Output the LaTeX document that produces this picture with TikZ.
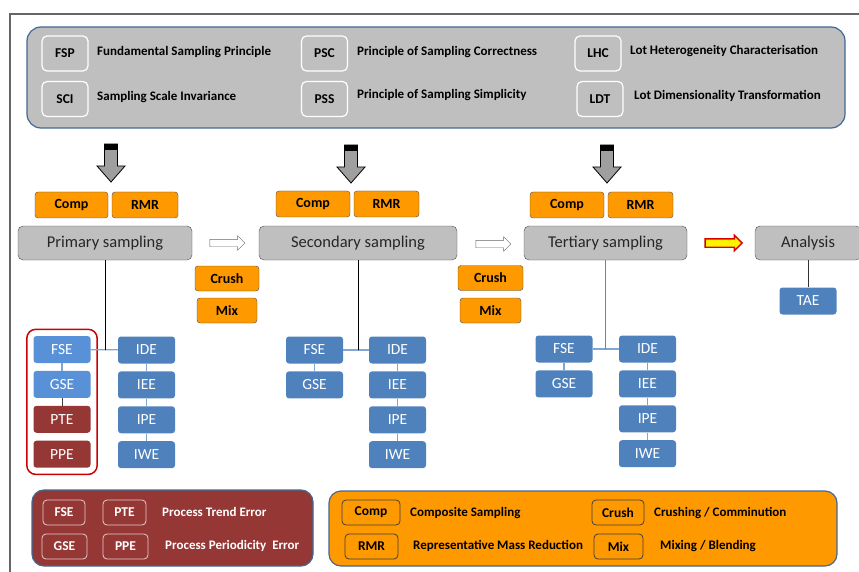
\documentclass[tikz,border=0pt]{standalone}
\usepackage{fontspec}
\setmainfont{Carlito}
\usetikzlibrary{positioning,shapes.arrows,fit}
\definecolor{boxgray}{RGB}{191,191,191}
\definecolor{edgeblue}{RGB}{65,105,150}
\definecolor{opsorange}{RGB}{255,153,0}
\definecolor{errblue}{RGB}{79,129,189}
\definecolor{errlight}{RGB}{88,145,215}
\definecolor{errred}{RGB}{149,55,53}
\definecolor{linkblue}{RGB}{130,165,210}
\tikzset{
  panel/.style={draw=edgeblue, line width=1.2pt, rounded corners=14pt},
  abbr/.style={draw=white, line width=1.2pt, rounded corners=5pt, minimum width=46pt, minimum height=35pt, inner sep=0pt, font=\fontsize{13.5}{15}\selectfont\bfseries},
  defn/.style={anchor=west, inner sep=0pt, font=\fontsize{13}{15}\selectfont\bfseries},
  unitop/.style={draw=black!70, fill=opsorange, rounded corners=3pt, minimum height=26pt, inner sep=0pt, font=\fontsize{14}{16}\selectfont\bfseries},
  stage/.style={draw=black!70, fill=boxgray, rounded corners=5pt, minimum height=34pt, inner sep=0pt, text=black!85, font=\fontsize{16.5}{19}\selectfont},
  err/.style={fill=errblue, rounded corners=3pt, minimum width=57pt, minimum height=27pt, inner sep=0pt, text=white, font=\fontsize{15.5}{18}\selectfont},
  errpale/.style={err, fill=errlight},
  errdark/.style={err, fill=errred},
  legbox/.style={draw, line width=0.8pt, rounded corners=4pt, minimum height=25pt, inner sep=0pt, font=\fontsize{13.5}{15}\selectfont\bfseries},
  link/.style={linkblue, line width=1.2pt},
  flow/.style={single arrow, single arrow head extend=3.5pt, inner sep=3.5pt, minimum height=35pt},
  downblock/.pic={
    \filldraw[fill=gray!75, draw=black, line width=0.8pt] (-6.5,0) -- (6.5,0) -- (6.5,22) -- (14,22) -- (0,38) -- (-14,22) -- (-6.5,22) -- cycle;
    \fill[black] (-6.5,0) rectangle (6.5,6);
  }
}
\begin{document}
\begin{tikzpicture}[x=1pt,y=-1pt]
\useasboundingbox (0,0) rectangle (859,572);
\draw[gray!80!black, line width=1.2pt] (10,572) -- (10,14) -- (859,14);

% principles
\draw[panel, fill=boxgray] (27,27) rectangle (845,128);
\node[abbr] (fsp) at (65,53.5) {FSP};
\node[abbr] (sci) at (65,99) {SCI};
\node[abbr] (psc) at (324.5,53.5) {PSC};
\node[abbr] (pss) at (324.5,99) {PSS};
\node[abbr] (lhc) at (598,53.5) {LHC};
\node[abbr] (ldt) at (600,99) {LDT};
\node[defn] (fsptxt) at (97,52) {Fundamental Sampling Principle};
\node[defn] (scitxt) at (97,97) {Sampling Scale Invariance};
\node[defn] (psctxt) at (357,52) {Principle of Sampling Correctness};
\node[defn] (psstxt) at (357,95) {Principle of Sampling Simplicity};
\node[defn] (lhctxt) at (630,51) {Lot Heterogeneity Characterisation};
\node[defn] (ldttxt) at (634,96) {Lot Dimensionality Transformation};

\pic at (111,144) {downblock};
\pic at (351,145) {downblock};
\pic at (607,145) {downblock};

% stages
\node[unitop, minimum width=73pt] (comp1) at (71.5,205) {Comp};
\node[unitop, minimum width=66pt] (rmr1) at (145,205) {RMR};
\node[unitop, minimum width=74pt] (comp2) at (313,204) {Comp};
\node[unitop, minimum width=65pt] (rmr2) at (386.5,204) {RMR};
\node[unitop, minimum width=74pt] (comp3) at (567,205) {Comp};
\node[unitop, minimum width=65pt] (rmr3) at (640.5,205) {RMR};

\node[stage, minimum width=174pt] (prim) at (105,243) {Primary sampling};
\node[stage, minimum width=198pt] (sec) at (358,243) {Secondary sampling};
\node[stage, minimum width=163pt] (tert) at (605.5,243) {Tertiary sampling};
\node[stage, minimum width=106pt] (anal) at (808,243) {Analysis};

\node[flow, draw=black!60, fill=white] (go1) at (225.5,243) {};
\node[flow, draw=black!60, fill=white] (go2) at (491.5,244) {};
\node[flow, draw=red!85!black, fill=yellow, line width=1.4pt, minimum height=37pt] (go3) at (721.5,243) {};

\node[unitop, minimum width=64pt, minimum height=25pt] (crush1) at (227,278.5) {Crush};
\node[unitop, minimum width=60pt, minimum height=25pt] (mix1) at (227,310.5) {Mix};
\node[unitop, minimum width=65pt, minimum height=25pt] (crush2) at (490.5,278) {Crush};
\node[unitop, minimum width=61pt, minimum height=25pt] (mix2) at (490.5,310.5) {Mix};

% errors
\node[errpale] (fse1) at (62,349.5) {FSE};
\node[errpale, below=7.5pt of fse1] (gse1) {GSE};
\node[errdark, below=7.5pt of gse1] (pte1) {PTE};
\node[errdark, below=7.5pt of pte1] (ppe1) {PPE};
\node[err] (ide1) at (146.5,350) {IDE};
\node[err, below=7.5pt of ide1] (iee1) {IEE};
\node[err, below=7.5pt of iee1] (ipe1) {IPE};
\node[err, below=7.5pt of ipe1] (iwe1) {IWE};
\node[draw=red!80!black, line width=1.5pt, rounded corners=9pt, inner sep=6.5pt, fit=(fse1)(ppe1)] (grp) {};

\node[err] (fse2) at (314.5,350) {FSE};
\node[err, below=7.5pt of fse2] (gse2) {GSE};
\node[err] (ide2) at (397.5,350) {IDE};
\node[err, below=7.5pt of ide2] (iee2) {IEE};
\node[err, below=7.5pt of iee2] (ipe2) {IPE};
\node[err, below=7.5pt of ipe2] (iwe2) {IWE};

\node[err] (fse3) at (564,349) {FSE};
\node[err, below=7.5pt of fse3] (gse3) {GSE};
\node[err] (ide3) at (647.5,349) {IDE};
\node[err, below=7.5pt of ide3] (iee3) {IEE};
\node[err, below=7.5pt of iee3] (ipe3) {IPE};
\node[err, below=7.5pt of ipe3] (iwe3) {IWE};

\node[err] (tae) at (808,301) {TAE};

\foreach \i in {1,2,3} {
  \draw[link] (fse\i) -- (ide\i);
  \draw[link] (fse\i) -- (gse\i);
  \draw[link] (ide\i) -- (iee\i) -- (ipe\i) -- (iwe\i);
}
\draw[black!75, line width=1pt] (gse1) -- (pte1);
\draw[black, line width=0.8pt] (prim.south) -- (prim.south |- fse1.east);
\draw[black, line width=0.8pt] (sec.south) -- (sec.south |- fse2.east);
\draw[gray, line width=0.8pt] (tert.south) -- (tert.south |- fse3.east);
\draw[black!80, line width=0.8pt] (anal) -- (tae);

% legends
\draw[panel, fill=errred, rounded corners=12pt] (32,490) rectangle (313,566);
\node[legbox, draw=white!75!errred, text=white, minimum width=42pt] (kfse) at (64,512.5) {FSE};
\node[legbox, draw=white!75!errred, text=white, minimum width=43pt] (kpte) at (124.5,512.5) {PTE};
\node[legbox, draw=white!75!errred, text=white, minimum width=45pt] (kgse) at (64.5,546.5) {GSE};
\node[legbox, draw=white!75!errred, text=white, minimum width=45pt] (kppe) at (125.5,546.5) {PPE};
\node[defn, text=white] (ptetxt) at (162,512) {Process Trend Error};
\node[defn, text=white] (ppetxt) at (165,546) {Process Periodicity\ \ Error};

\draw[panel, fill=opsorange, rounded corners=12pt] (329,491) rectangle (837,566);
\node[legbox, draw=black!75, minimum width=58pt] (kcomp) at (371,512.5) {Comp};
\node[legbox, draw=black!75, minimum width=53pt] (krmr) at (371.5,546.5) {RMR};
\node[legbox, draw=black!75, minimum width=52pt] (kcrush) at (618,512.5) {Crush};
\node[legbox, draw=black!75, minimum width=49pt] (kmix) at (618.5,546.5) {Mix};
\node[defn] (comptxt) at (410,513) {Composite Sampling};
\node[defn] (rmrtxt) at (413,546) {Representative Mass Reduction};
\node[defn] (crushtxt) at (654,513) {Crushing / Comminution};
\node[defn] (mixtxt) at (660,546) {Mixing / Blending};
\end{tikzpicture}
\end{document}
